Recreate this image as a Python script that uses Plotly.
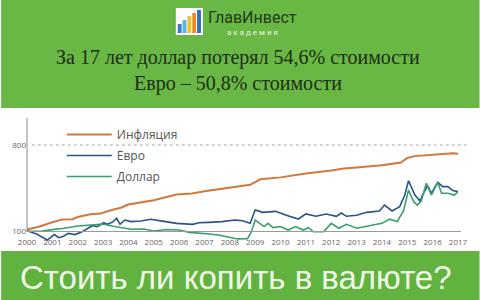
import plotly.graph_objects as go

# ---- data (index values) ----
infl_x = [2000, 2000.5, 2001, 2001.4, 2001.8, 2002, 2002.5, 2002.9, 2003.3, 2003.7, 2004, 2005,
          2005.9, 2006.5, 2007, 2008, 2008.8, 2009, 2009.2, 2010, 2011, 2012, 2012.5, 2013, 2014,
          2014.75, 2015, 2015.3, 2016, 2016.8, 2017]
infl_y = [115, 140, 175, 198, 200, 218, 240, 245, 272, 292, 318, 353,
          400, 408, 425, 452, 478, 500, 522, 538, 570, 594, 610, 618, 637,
          658, 695, 710, 724, 734, 730]

euro_x = [2000, 2000.4, 2000.8, 2000.97, 2001.08, 2001.25, 2001.44, 2001.63, 2001.88, 2002.13,
          2002.39, 2002.58, 2002.77, 2003.02, 2003.18, 2003.4, 2003.54, 2003.67, 2003.86, 2004.1,
          2004.5, 2004.88, 2005.4, 2005.9, 2006.53, 2006.78, 2007.16, 2007.7, 2008.2, 2008.5,
          2008.8, 2009.0, 2009.3, 2009.8, 2010.2, 2010.7, 2011.0, 2011.4, 2011.8, 2012.2,
          2012.4, 2012.6, 2013.0, 2013.4, 2013.9, 2014.1, 2014.4, 2014.7, 2014.9, 2015.05,
          2015.3, 2015.5, 2015.6, 2015.8, 2015.95, 2016.2, 2016.4, 2016.6, 2016.8, 2017]
euro_y = [106, 77, 31, 58, 75, 50, 62, 85, 75, 93,
          126, 147, 139, 171, 158, 180, 207, 158, 193, 180,
          185, 199, 182, 166, 158, 171, 174, 180, 193, 187,
          166, 274, 255, 263, 233, 201, 242, 223, 242, 223,
          250, 223, 231, 255, 266, 314, 266, 301, 395, 511,
          395, 347, 395, 471, 409, 498, 463, 463, 431, 423]

usd_x = [2000, 2000.6, 2001, 2001.4, 2002, 2002.6, 2003, 2003.4, 2003.75, 2004.1, 2004.6, 2005,
         2005.5, 2006, 2006.4, 2006.9, 2007.2, 2007.6, 2008, 2008.3, 2008.7, 2008.85, 2009.0,
         2009.2, 2009.35, 2009.5, 2009.7, 2010, 2010.3, 2010.6, 2010.9, 2011.1, 2011.3, 2011.7,
         2012.0, 2012.3, 2012.6, 2013, 2013.3, 2013.7, 2014, 2014.3, 2014.6, 2014.85, 2015.05,
         2015.25, 2015.4, 2015.55, 2015.75, 2015.95, 2016.2, 2016.35, 2016.6, 2016.85, 2017]
usd_y = [102, 104, 115, 124, 145, 155, 160, 142, 132, 118, 120, 104,
         116, 112, 93, 88, 80, 70, 52, 40, 42, 98, 193,
         166, 140, 166, 132, 140, 112, 140, 112, 131, 98, 98,
         166, 126, 158, 126, 139, 158, 166, 200, 180, 266, 436,
         341, 314, 347, 490, 395, 498, 409, 409, 395, 420]

year_ticks = list(range(2000, 2018))
y_ticks = [100, 800]
names = ["Инфляция", "Евро", "Доллар"]
colors = ["#d4773b", "#2b5288", "#3a9e6e"]

fig = go.Figure()
for i, (xs, ys) in enumerate([(infl_x, infl_y), (euro_x, euro_y), (usd_x, usd_y)]):
    fig.add_trace(go.Scatter(x=xs, y=ys, mode="lines", name=names[i], legendgroup=str(i),
                             line=dict(color=colors[i], width=2 if i == 0 else 1.6)))

GREEN_TOP = "#69b845"
GREEN_BOT = "#62b23f"


def px(x):
    return (x - 22) / 446


def py(y):
    return (242 - y) / 124


shapes = [
    dict(type="rect", xref="paper", yref="paper", x0=-0.06, x1=1.05, y0=py(108), y1=2.0,
         fillcolor=GREEN_TOP, line=dict(width=0), layer="below"),
    dict(type="rect", xref="paper", yref="paper", x0=-0.06, x1=1.05, y0=-0.6, y1=py(251),
         fillcolor=GREEN_BOT, line=dict(width=0), layer="below"),
    # axis lines
    dict(type="line", xref="paper", yref="y", x0=0, x1=0, y0=96, y1=1018,
         line=dict(color="#8a8a8a", width=1)),
    dict(type="line", xref="paper", yref="y", x0=0, x1=px(471), y0=100, y1=100,
         line=dict(color="#9a9a9a", width=1)),
    dict(type="line", xref="paper", yref="y", x0=px(27), x1=px(479), y0=800, y1=800,
         line=dict(color="#a8a8a8", width=1, dash="dot")),
    # logo icon
    dict(type="rect", xref="paper", yref="paper", x0=px(176), x1=px(204),
         y0=py(35), y1=py(8), fillcolor="#ffffff", line=dict(width=0)),
]
bars = [("#2d7fc6", 178, 182, 24), ("#59b6e0", 183, 187, 20), ("#f2c230", 188, 192, 16),
        ("#ef8a25", 193, 197, 13), ("#2a6fb8", 198, 202, 10)]
for c, a, b, top in bars:
    shapes.append(dict(type="rect", xref="paper", yref="paper", x0=px(a), x1=px(b),
                       y0=py(33), y1=py(top), fillcolor=c, line=dict(width=0)))

annotations = [
    dict(text="ГлавИнвест", x=px(255), y=py(17), font=dict(family="Roboto", size=16, color="#1f3a1c")),
    dict(text="а к а д е м и я", x=px(255), y=py(32), font=dict(family="Roboto", size=8, color="#e8f4df")),
    dict(text="За 17 лет доллар потерял 54,6% стоимости", x=px(240), y=py(57),
         font=dict(family="Liberation Serif", size=20, color="#1c2c13")),
    dict(text="Евро – 50,8% стоимости", x=px(240), y=py(83),
         font=dict(family="Liberation Serif", size=20, color="#1c2c13")),
    dict(text="Стоить ли копить в валюте?", x=px(238), y=py(277),
         font=dict(family="Liberation Sans", size=33, color="#eef7e8")),
]
for a in annotations:
    a.update(xref="paper", yref="paper", showarrow=False, xanchor="center", yanchor="middle")

fig.update_layout(
    width=480, height=300,
    margin=dict(l=22, r=12, t=118, b=58),
    paper_bgcolor="#ffffff", plot_bgcolor="#ffffff",
    showlegend=True,
    legend=dict(x=px(58), y=py(120), xanchor="left", yanchor="top", bgcolor="rgba(0,0,0,0)",
                font=dict(family="Open Sans", size=12, color="#555555"), tracegroupgap=2,
                itemwidth=45),
    shapes=shapes, annotations=annotations,
    xaxis=dict(range=[2000, 2017], tickvals=year_ticks, ticks="", showgrid=False, zeroline=False,
               showline=False, tickfont=dict(family="Open Sans", size=8, color="#666666"),
               ticklabelstandoff=-6),
    yaxis=dict(range=[15.03, 1018.5], tickvals=y_ticks, ticks="", showgrid=False, zeroline=False,
               showline=False, tickfont=dict(family="Open Sans", size=8, color="#666666")),
)

fig.write_html("out.html")
